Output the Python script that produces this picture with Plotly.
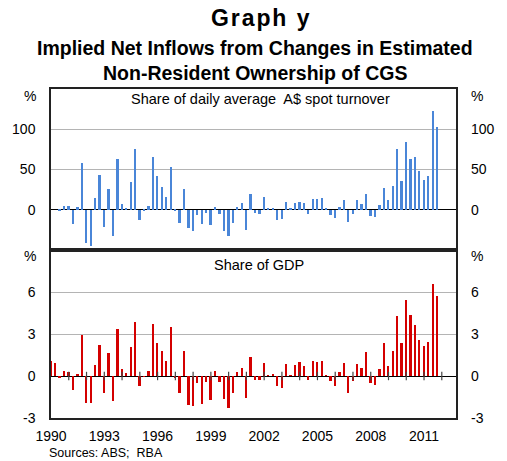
import plotly.graph_objects as go

# ---- data ----
turnover_start = (1990, 2)   # first quarter of the turnover series (Jun 1990)
gdp_start = (1989, 4)        # first quarter of the GDP series (Dec 1989)

turnover_share = [
    -1, 5, 5, -18, 3, 58, -41, -45, 14, 43, -22, 26, -32, 63, 7.5, 2.5, 35, 76, -12.5, -1,
    5, 65, 42, 28, 16, 53, -2, -16, 26,
    -23, -26, -6, -18, -4, -19, 3, -5, -27, -32, -17, 4, 9, -25, 20, -4, -5, 16, 2, 2.5,
    -12.5, -11, 10, 2, 9, 10, 8, -5, 13, 13,
    14, 2, -6, -10, 3, 12, -15, -5, 12, 7, 20, -7.5, -9.5, 6, 27, 12, 30, 76, 36, 84,
    62.5, 65, 48, 37.5, 42.5, 122.5, 103,
]

gdp_share = [
    1.08, 0.94, -0.1, 0.36, 0.31, -0.98, 0.17, 2.93, -1.94, -1.94, 0.77, 2.18, -1.22, 1.66,
    -1.8, 3.38, 0.53, 0.19, 2.09, 3.86, -0.74, -0.05, 0.36, 3.74, 2.38, 1.82, 1.06, 3.53,
    -0.12, -1.2, 1.82,
    -2.04, -2.16, -0.5, -2.0, -0.41, -1.7, 0.36, -0.41, -1.66, -2.28, -1.2, 0.26, 0.55,
    -1.56, 1.39, -0.26, -0.31, 0.91, 0.07, 0.17, -0.74, -0.84, 0.86, 0.05, 0.82, 1.0, 0.7,
    -0.31, 1.06, 0.98,
    1.06, 0.07, -0.38, -0.74, 0.31, 0.96, -1.18, -0.36, 0.86, 0.6, 1.68, -0.53, -0.67, 0.53,
    2.35, 0.72, 1.82, 4.27, 2.35, 5.45, 4.37, 3.62, 2.57, 2.16, 2.4, 6.6, 5.74,
]

year_ticks = list(range(1990, 2012, 3))
year_marks = list(range(1991, 2013))
top_ticks = [0, 50, 100]
bottom_ticks = [-3, 0, 3, 6]


def quarter_positions(start, n):
    """Quarter-end positions in decimal years for n consecutive quarters."""
    y, q = start
    out = []
    for _ in range(n):
        out.append(y + q / 4.0)
        q += 1
        if q > 4:
            q = 1
            y += 1
    return out


x_turn = quarter_positions(turnover_start, len(turnover_share))
x_gdp = quarter_positions(gdp_start, len(gdp_share))

BLUE = "#4a86d8"
RED = "#d40000"
GRID = "#b4b4b4"
FONT = "Liberation Sans, Arial, sans-serif"

# plot-area geometry in pixels
W, H = 507, 461
L, R, T, B = 47, 470, 89, 418
PW, PH = R - L, B - T


def px(xp):
    return (xp - L) / PW


def py(yp):
    return (B - yp) / PH


fig = go.Figure()

fig.add_trace(go.Bar(x=x_turn, y=turnover_share, width=0.1, marker_color=BLUE,
                     marker_line_width=0, xaxis="x", yaxis="y", showlegend=False))
fig.add_trace(go.Bar(x=x_gdp, y=gdp_share, width=0.1, marker_color=RED,
                     marker_line_width=0, xaxis="x2", yaxis="y2", showlegend=False))
# small year marks sitting on the zero line of the lower panel
fig.add_trace(go.Scatter(x=year_marks, y=[0] * len(year_marks), mode="markers",
                         marker=dict(symbol="line-ns", size=6, line=dict(width=1.2, color="#444")),
                         xaxis="x2", yaxis="y2", showlegend=False, hoverinfo="skip"))
# invisible traces to activate right-hand axes
fig.add_trace(go.Scatter(x=[2000], y=[0], mode="markers", marker=dict(opacity=0),
                         xaxis="x", yaxis="y3", showlegend=False, hoverinfo="skip"))
fig.add_trace(go.Scatter(x=[2000], y=[0], mode="markers", marker=dict(opacity=0),
                         xaxis="x2", yaxis="y4", showlegend=False, hoverinfo="skip"))

split = py(250)
xr = [1990, 2012.8]
axis_line = dict(showline=True, linecolor="#222", linewidth=1.5, mirror=True)

fig.update_layout(
    width=W, height=H,
    margin=dict(l=L, r=W - R, t=T, b=H - B, pad=0),
    paper_bgcolor="white", plot_bgcolor="white",
    font=dict(family=FONT, size=14, color="black"),
    bargap=0,
    xaxis=dict(domain=[0, 1], anchor="y", range=xr, showticklabels=False, ticks="",
               showgrid=False, zeroline=False, **axis_line),
    xaxis2=dict(domain=[0, 1], anchor="y2", range=xr, tickvals=year_ticks,
                ticktext=[str(v) for v in year_ticks], ticks="", showgrid=False,
                zeroline=False, ticklabelstandoff=4, **axis_line),
    yaxis=dict(domain=[split, 1], anchor="x", range=[-50, 150], tickvals=top_ticks,
               ticks="", showgrid=True, gridcolor=GRID, gridwidth=1.2,
               zeroline=True, zerolinecolor="black", zerolinewidth=1.2,
               ticklabelstandoff=11, **axis_line),
    yaxis3=dict(overlaying="y", side="right", anchor="x", range=[-50, 150],
                tickvals=top_ticks, ticks="", showgrid=False, zeroline=False,
                ticklabelstandoff=14, showline=False),
    yaxis2=dict(domain=[0, split], anchor="x2", range=[-3, 9], tickvals=bottom_ticks,
                ticktext=["-3", "0", "3", "6"],
                ticks="", showgrid=True, gridcolor=GRID, gridwidth=1.2,
                zeroline=True, zerolinecolor="black", zerolinewidth=1.2,
                ticklabelstandoff=11, **axis_line),
    yaxis4=dict(overlaying="y2", side="right", anchor="x2", range=[-3, 9],
                tickvals=bottom_ticks, ticktext=["-3", "0", "3", "6"], ticks="",
                showgrid=False, zeroline=False, ticklabelstandoff=14, showline=False),
)

ann = []
# titles
hs = "\u200a"
graph_title = hs.join("Graph y")
ann.append(dict(text="<b>" + graph_title + "</b>", x=px(266), y=py(18), showarrow=False,
                font=dict(size=23), xanchor="center", yanchor="middle"))
ann.append(dict(text="<b>Implied Net Inflows from Changes in Estimated</b>", x=px(260.5),
                y=py(48), showarrow=False, font=dict(size=19.5),
                xanchor="center", yanchor="middle"))
ann.append(dict(text="<b>Non-Resident Ownership of CGS</b>", x=px(260.5),
                y=py(73), showarrow=False, font=dict(size=19.5),
                xanchor="center", yanchor="middle"))

# panel titles
ann.append(dict(text="Share of daily average  A$ spot turnover", x=px(266), y=py(99),
                showarrow=False, font=dict(size=14.5), xanchor="center", yanchor="middle"))
ann.append(dict(text="Share of GDP", x=px(264), y=py(265),
                showarrow=False, font=dict(size=14.5), xanchor="center", yanchor="middle"))

# unit labels
for yy in [96, 256]:
    ann.append(dict(text="%", x=px(33), y=py(yy), showarrow=False,
                    font=dict(size=14), xanchor="right", yanchor="middle"))
    ann.append(dict(text="%", x=px(484), y=py(yy), showarrow=False,
                    font=dict(size=14), xanchor="left", yanchor="middle"))

# source
ann.append(dict(text="Sources: ABS;  RBA", x=px(43), y=py(453), xanchor="left",
                yanchor="middle", showarrow=False, font=dict(size=12.5)))

for a in ann:
    a["xref"] = "paper"
    a["yref"] = "paper"
fig.update_layout(annotations=ann)

fig.write_html("out.html", config={"displayModeBar": False},
               post_script="document.body.style.margin='0';")
